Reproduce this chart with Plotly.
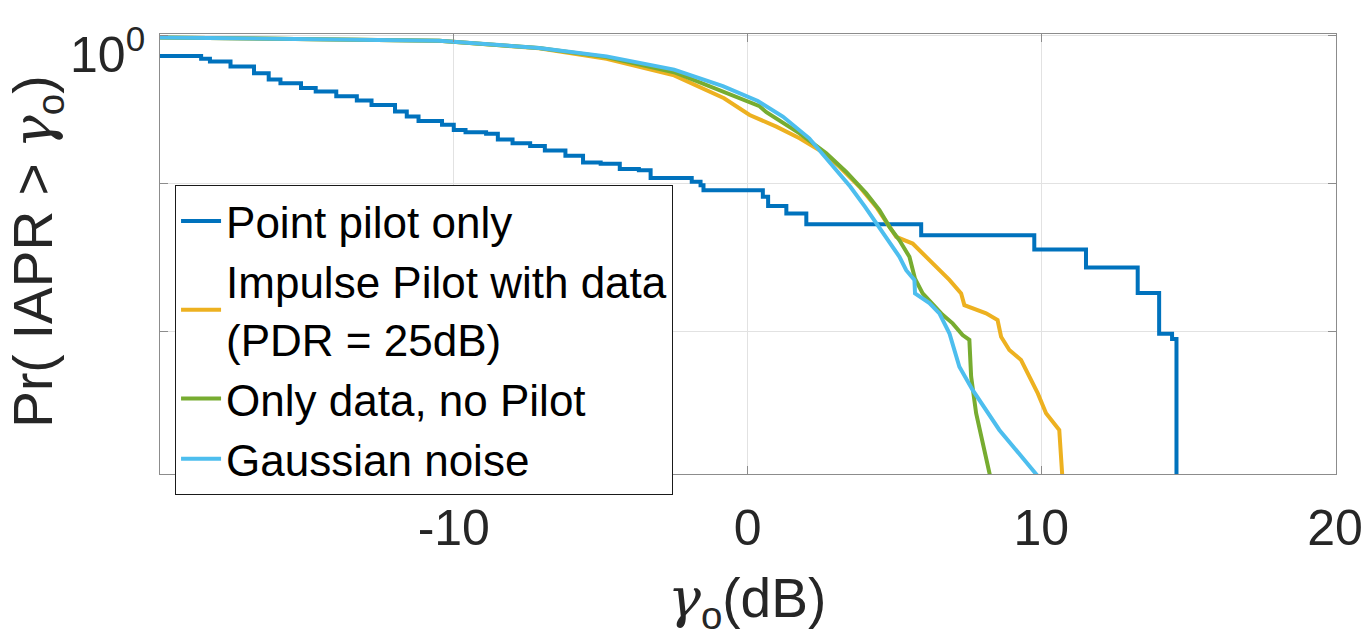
import plotly.graph_objects as go

# ---- data (x in dB, y = probability) ----
pp_x = [-20.0, -18.6, -18.3, -17.6, -16.8, -16.3, -15.9, -15.2, -14.7, -14.0, -13.3, -12.8,
        -12.0, -11.6, -11.2, -10.4, -10.0, -9.6, -8.9, -8.5, -8.0, -7.4, -6.9, -6.2, -5.6,
        -5.0, -4.35, -3.7, -3.3, -1.9, -1.6, -1.5, 0.52, 0.7, 1.32, 2.0, 5.91, 9.76, 11.52,
        13.28, 14.01, 14.45, 14.6]
pp_y = [0.724, 0.692, 0.664, 0.614, 0.553, 0.501, 0.474, 0.439, 0.416, 0.386, 0.362, 0.338,
        0.305, 0.282, 0.263, 0.248, 0.229, 0.221, 0.216, 0.197, 0.186, 0.178, 0.166, 0.153, 0.138,
        0.1355, 0.1245, 0.1225, 0.1084, 0.1023, 0.0970, 0.0897, 0.0809, 0.0700, 0.0624, 0.0528,
        0.0445, 0.0356, 0.0269, 0.0181, 0.00959, 0.00887, 0.0001]

imp_x = [-20.0, -15.0, -10.5, -7.1, -4.8, -2.5, -0.8, 0.07, 0.98, 1.77, 2.45, 3.13, 3.81,
         4.38, 4.75, 5.06, 5.62, 6.30, 6.87, 7.27, 7.38, 8.12, 8.51, 8.63, 8.91, 9.31, 9.59,
         9.88, 10.16, 10.61, 10.72]
imp_y = [0.966, 0.944, 0.916, 0.817, 0.693, 0.535, 0.375, 0.289, 0.241, 0.201, 0.167, 0.129,
         0.0946, 0.0692, 0.0533, 0.0434, 0.0391, 0.0286, 0.0222, 0.0180, 0.0150, 0.0132, 0.0119,
         0.00918, 0.00746, 0.00638, 0.00493, 0.00380, 0.00279, 0.00215, 0.00100]

dat_x = [-20.0, -15.0, -10.5, -7.1, -4.8, -2.5, -0.84, -0.16, 0.41, 0.64, 1.77, 2.68, 3.36,
         4.04, 4.49, 4.83, 5.17, 5.51, 5.70, 5.96, 6.64, 6.98, 7.32, 7.55, 7.61, 7.78, 8.28]
dat_y = [0.966, 0.944, 0.918, 0.818, 0.711, 0.562, 0.418, 0.366, 0.331, 0.302, 0.217, 0.159,
         0.119, 0.0853, 0.0658, 0.0507, 0.0411, 0.0318, 0.0226, 0.0180, 0.0129, 0.0113, 0.00942,
         0.00873, 0.00493, 0.00279, 0.00100]

gau_x = [-20.0, -15.0, -10.5, -7.1, -4.8, -2.5, -0.84, 0.35, 1.2, 2.1, 2.9, 3.5, 4.0, 4.4,
         4.8, 5.17, 5.40, 5.68, 5.70, 6.19, 6.53, 6.87, 7.21, 7.66, 8.57, 9.93]
gau_y = [0.966, 0.944, 0.918, 0.820, 0.719, 0.585, 0.452, 0.359, 0.282, 0.201, 0.129, 0.0946,
         0.0692, 0.0533, 0.0411, 0.0318, 0.0258, 0.0222, 0.0180, 0.0155, 0.0132, 0.00968,
         0.00575, 0.00401, 0.00215, 0.00102]

names = ["Point pilot only", "Impulse Pilot with data<br>(PDR = 25dB)",
         "Only data, no Pilot", "Gaussian noise"]
colors = ["#0072BD", "#EDB120", "#77AC30", "#4DBEEE"]

x_ticks = [-10, 0, 10, 20]
x_ticktext = ["-10", "0", "10", "20"]
y_ticks = [0.01, 0.1, 1]
y_ticktext = ["", "", ""]
y_top_label = "10<sup>0</sup>"

FONT = "Liberation Sans, Arial, sans-serif"
GAMMA = "<span style='font-family:DejaVu Serif'><i>γ</i></span>"

fig = go.Figure()
series = [(pp_x, pp_y, "hv"), (imp_x, imp_y, "linear"), (dat_x, dat_y, "linear"), (gau_x, gau_y, "linear")]
for (xs, ys, shape), nm, c in zip(series, names, colors):
    fig.add_trace(go.Scatter(x=xs, y=ys, mode="lines", name=nm,
                             line=dict(color=c, width=4, shape=shape)))

axis_common = dict(showline=True, linecolor="#8c8c8c", linewidth=1, mirror="ticks",
                   ticks="inside", ticklen=8, tickcolor="#8c8c8c", automargin=False,
                   ticklabeloverflow="allow",
                   showgrid=True, gridcolor="#e2e2e2", gridwidth=1, zeroline=False,
                   tickfont=dict(family=FONT, size=50, color="#262626"))

fig.update_layout(
    width=1365, height=638,
    margin=dict(l=160, r=29, t=34, b=164),
    paper_bgcolor="white", plot_bgcolor="white",
    showlegend=True,
    legend=dict(x=0.0128, y=0.657, xanchor="left", yanchor="top",
                bgcolor="white", bordercolor="#1a1a1a", borderwidth=1,
                font=dict(family=FONT, size=44, color="black"),
                tracegroupgap=0, itemwidth=40),
    xaxis=dict(range=[-20.0, 20.03], tickvals=x_ticks, ticktext=x_ticktext,
               ticklabelstandoff=10, **axis_common),
    yaxis=dict(type="log", range=[-2.965, 0.008], tickvals=y_ticks, ticktext=y_ticktext,
               ticklabelstandoff=8, **axis_common),
    annotations=[
        dict(text=y_top_label, xref="paper", yref="paper",
             x=-0.011, y=0.962, xanchor="right", yanchor="middle",
             showarrow=False, font=dict(family=FONT, size=50, color="#262626")),
        dict(text="Pr( IAPR > " + GAMMA + "<sub>o</sub>)", xref="paper", yref="paper",
             x=-0.1046, y=0.505, xanchor="center", yanchor="middle", textangle=-90,
             showarrow=False, font=dict(family=FONT, size=55, color="#262626")),
        dict(text=GAMMA + "<sub>o</sub>(dB)", xref="paper", yref="paper",
             x=0.499, y=-0.29, xanchor="center", yanchor="middle",
             showarrow=False, font=dict(family=FONT, size=55, color="#262626")),
    ],
)

# remove the default 8px page margin so the 1365x638 figure fills the window exactly
fig.write_html("out.html",
               config={"displayModeBar": False},
               post_script="document.body.style.margin='0';document.body.style.overflow='hidden';")
